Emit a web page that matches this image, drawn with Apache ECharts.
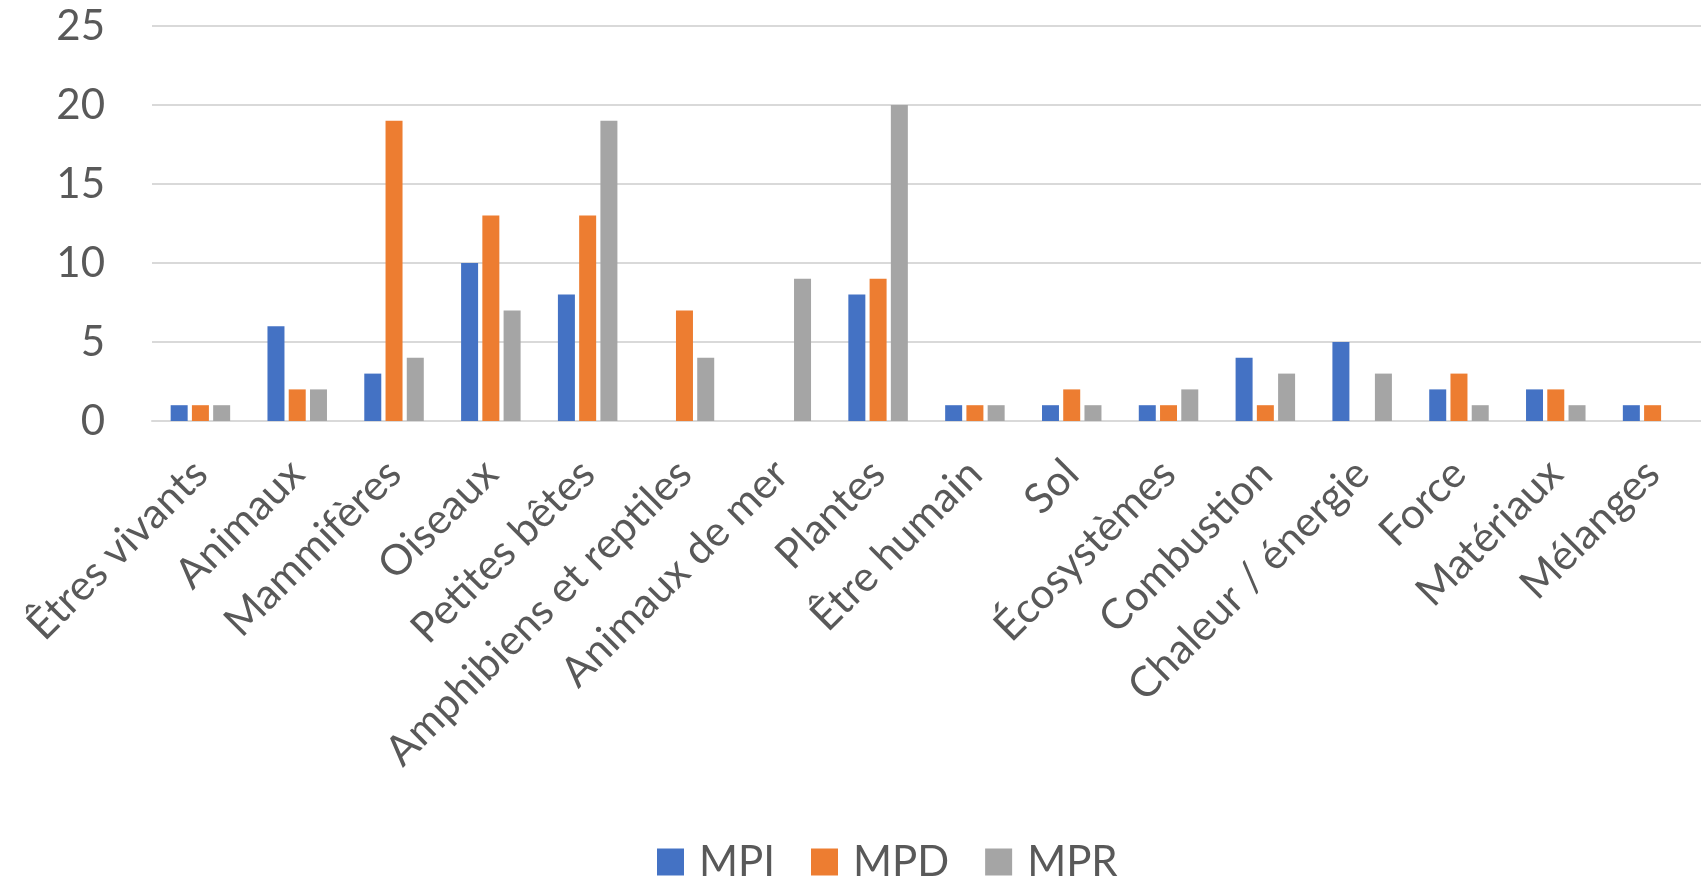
<!DOCTYPE html>
<html>
<head>
<meta charset="utf-8">
<script src="https://cdn.jsdelivr.net/npm/echarts@6/dist/echarts.min.js"></script>
<style>
html,body{margin:0;padding:0;background:#fff;}
#chart{width:1701px;height:876px;}
</style>
</head>
<body>
<div id="chart"></div>
<script>
const categories = ["Êtres vivants","Animaux","Mammifères","Oiseaux","Petites bêtes","Amphibiens et reptiles","Animaux de mer","Plantes","Être humain","Sol","Écosystèmes","Combustion","Chaleur / énergie","Force","Matériaux","Mélanges"];
const seriesNames = ["MPI","MPD","MPR"];
const mpi = [1,6,3,10,8,0,0,8,1,1,1,4,5,2,2,1];
const mpd = [1,2,19,13,13,7,0,9,1,2,1,1,0,3,2,1];
const mpr = [1,2,4,7,19,4,9,20,1,1,2,3,3,1,1,0];
const yTicks = [0,5,10,15,20,25];
const colors = ["#4472C4","#ED7D31","#A5A5A5"];

const FONT = "Lato";
const chart = echarts.init(document.getElementById('chart'));
const dataSets = [mpi, mpd, mpr];
chart.setOption({
  animation:false,
  color: colors,
  textStyle:{fontFamily:FONT},
  grid:{left:152, right:-20, top:26, bottom:455, containLabel:false},
  legend:{
    data: seriesNames,
    left:652, top:836,
    icon:'rect', itemWidth:27, itemHeight:27, itemGap:36,
    textStyle:{fontFamily:FONT, fontSize:42, color:'#595959', padding:[0,0,0,10]}
  },
  xAxis:{
    type:'category', data:categories,
    axisLine:{lineStyle:{color:'#D9D9D9', width:2}},
    axisTick:{show:false},
    axisLabel:{rotate:45, interval:0, margin:46, fontFamily:FONT, fontSize:42, color:'#595959'}
  },
  yAxis:{
    type:'value', min:yTicks[0], max:yTicks[yTicks.length-1], interval:5,
    axisLine:{show:false}, axisTick:{show:false},
    splitLine:{lineStyle:{color:'#D9D9D9', width:2}},
    axisLabel:{margin:47, fontFamily:FONT, fontSize:42, color:'#595959'}
  },
  series: seriesNames.map((n,i)=>({
    name:n, type:'bar', data:dataSets[i], barWidth:17, barGap:'25%'
  }))
});
</script>
</body>
</html>
